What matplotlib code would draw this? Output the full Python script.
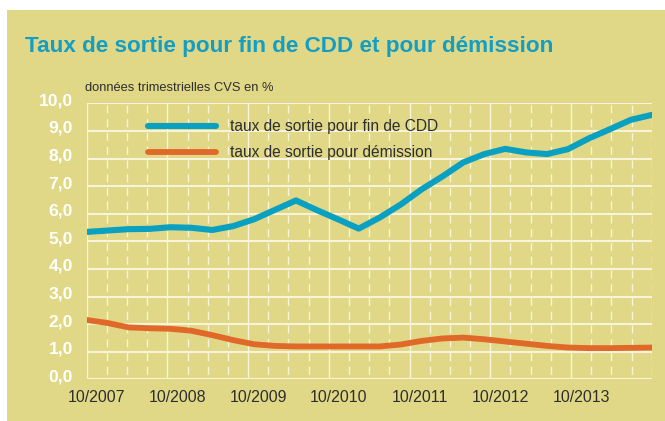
import numpy as np
import matplotlib
matplotlib.use("Agg")
import matplotlib.pyplot as plt
from matplotlib.patches import Rectangle
from matplotlib.transforms import ScaledTranslation

# données trimestrielles 10/2007 -> 07/2014
fin_cdd = [5.34, 5.39, 5.44, 5.45, 5.51, 5.49, 5.41, 5.55, 5.80, 6.14,
           6.48, 6.13, 5.80, 5.46, 5.86, 6.33, 6.88, 7.35, 7.86, 8.16,
           8.35, 8.22, 8.16, 8.34, 8.73, 9.06, 9.40, 9.58]
demission = [2.15, 2.04, 1.88, 1.85, 1.83, 1.76, 1.60, 1.42, 1.27, 1.21,
             1.19, 1.19, 1.19, 1.19, 1.19, 1.26, 1.39, 1.48, 1.51, 1.45,
             1.37, 1.29, 1.21, 1.15, 1.13, 1.13, 1.14, 1.15]
annees = ["10/2007", "10/2008", "10/2009", "10/2010", "10/2011", "10/2012", "10/2013"]
y_ticks = [0, 1, 2, 3, 4, 5, 6, 7, 8, 9, 10]
y_labels = ["0,0", "1,0", "2,0", "3,0", "4,0", "5,0", "6,0", "7,0", "8,0", "9,0", "10,0"]

fond = "#e0d886"
grille = "#f8f4da"
bleu = "#0aa0c2"
orange = "#e0692a"
texte = "#2e2e2e"

plt.rcParams['font.family'] = ['Liberation Sans', 'DejaVu Sans']
plt.rcParams['lines.scale_dashes'] = False

W, H = 665, 421
fig = plt.figure(figsize=(W / 100, H / 100), dpi=100, facecolor="white")
fig.patches.append(Rectangle((7 / W, 0), 1, 411 / H, transform=fig.transFigure,
                             facecolor=fond, edgecolor="none", zorder=-10))

ax = fig.add_axes([86.7 / W, 1 - 379.3 / H, (651.7 - 86.7) / W, (379.3 - 103.3) / H])
ax.set_facecolor("none")
ax.set_zorder(1)
for s in ax.spines.values():
    s.set_visible(False)

x = np.arange(len(fin_cdd))
xmax = len(fin_cdd) - 1
ax.set_xlim(0, xmax)
ax.set_ylim(0, 10)

# grille : trimestres (pointillés) et années (traits pleins)
n_trim = 4 * len(annees)
pas = xmax / n_trim
for j in range(n_trim + 1):
    xj = j * pas
    if j % 4 == 0 and j < n_trim:
        ax.plot([xj, xj], [10, 0], color=grille, lw=1.0, zorder=1)
    else:
        ax.plot([xj, xj], [10, 0], color=grille, lw=1.0, zorder=1,
                linestyle=(8.5, (5.8, 4.1)))
for v in y_ticks:
    ax.plot([0, xmax], [v, v], color=grille, lw=1.5, zorder=1)

ax.plot(x, fin_cdd, color=bleu, lw=4.4, solid_capstyle="round",
        solid_joinstyle="round", label="taux de sortie pour fin de CDD", zorder=3)
ax.plot(x, demission, color=orange, lw=4.2, solid_capstyle="round",
        solid_joinstyle="round", label="taux de sortie pour démission", zorder=3)

# axes
ax.set_yticks(y_ticks)
ax.set_yticklabels(y_labels, color="white", fontsize=12.6, fontweight="bold")
ax.tick_params(axis="y", length=0, pad=10)
for lab in ax.get_yticklabels():
    lab.set_transform(lab.get_transform() + ScaledTranslation(0, 4 / 100, fig.dpi_scale_trans))

ax.set_xticks([(4 * i + 0.5) * pas for i in range(len(annees))])
ax.set_xticklabels(annees, color=texte, fontsize=11.4)
ax.tick_params(axis="x", length=0, pad=8)

leg = ax.legend(loc="upper left", bbox_to_anchor=(148 / W, 1 - 119 / H),
                bbox_transform=fig.transFigure, frameon=False, fontsize=11.2,
                handlelength=4.4, handletextpad=0.85, labelspacing=0.72,
                borderpad=0, borderaxespad=0)
for t in leg.get_texts():
    t.set_color(texte)

fig.text(24.6 / W, 1 - 51.7 / H, "Taux de sortie pour fin de CDD et pour démission",
         fontsize=16.2, fontweight="bold", color="#149ec4", va="baseline")
fig.text(85 / W, 1 - 88 / H, "données trimestrielles CVS en %",
         fontsize=9.3, color=texte, va="center")

fig.savefig("out.png", dpi=100, facecolor="white")
